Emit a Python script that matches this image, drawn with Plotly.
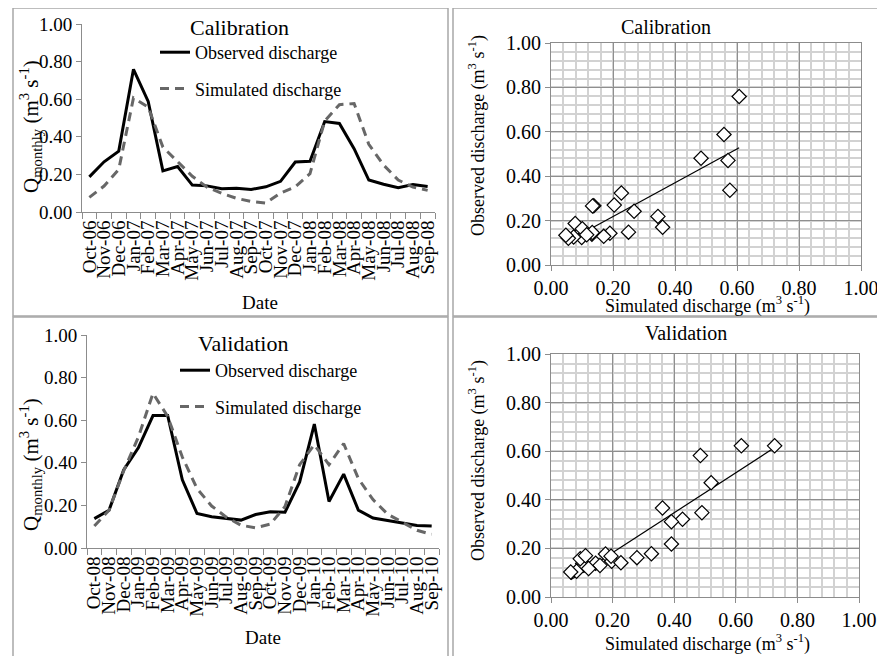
import numpy as np
import plotly.graph_objects as go

# the page body adds an 8px margin, so the figure starts at (8, 8) in the window
OFF = 8
W, H = 885 - OFF, 656 - OFF
FONT = "Liberation Serif, Times New Roman, Times, serif"

# ---------------- data ----------------
cal_months = ["Oct-06", "Nov-06", "Dec-06", "Jan-07", "Feb-07", "Mar-07", "Apr-07", "May-07",
              "Jun-07", "Jul-07", "Aug-07", "Sep-07", "Oct-07", "Nov-07", "Dec-07", "Jan-08",
              "Feb-08", "Mar-08", "Apr-08", "May-08", "Jun-08", "Jul-08", "Aug-08", "Sep-08"]
cal_obs = [0.187, 0.267, 0.324, 0.759, 0.588, 0.219, 0.242, 0.143, 0.139, 0.124, 0.126, 0.120,
           0.134, 0.163, 0.266, 0.270, 0.481, 0.471, 0.337, 0.170, 0.148, 0.129, 0.146, 0.136]
cal_sim = [0.078, 0.138, 0.227, 0.607, 0.558, 0.345, 0.268, 0.190, 0.132, 0.099, 0.073, 0.056,
           0.048, 0.101, 0.134, 0.204, 0.484, 0.571, 0.577, 0.360, 0.250, 0.170, 0.133, 0.115]

val_months = ["Oct-08", "Nov-08", "Dec-08", "Jan-09", "Feb-09", "Mar-09", "Apr-09", "May-09",
              "Jun-09", "Jul-09", "Aug-09", "Sep-09", "Oct-09", "Nov-09", "Dec-09", "Jan-10",
              "Feb-10", "Mar-10", "Apr-10", "May-10", "Jun-10", "Jul-10", "Aug-10", "Sep-10"]
val_obs = [0.138, 0.177, 0.366, 0.470, 0.622, 0.622, 0.320, 0.162, 0.147, 0.139, 0.131, 0.157,
           0.170, 0.168, 0.310, 0.582, 0.218, 0.347, 0.178, 0.141, 0.130, 0.117, 0.106, 0.103]
val_sim = [0.103, 0.177, 0.362, 0.520, 0.726, 0.618, 0.427, 0.279, 0.197, 0.145, 0.107, 0.095,
           0.112, 0.195, 0.391, 0.485, 0.391, 0.490, 0.326, 0.227, 0.159, 0.122, 0.083, 0.064]

value_ticks = [0.0, 0.2, 0.4, 0.6, 0.8, 1.0]


def px(x):
    return (x - OFF) / W


def py(y):
    return 1 - (y - OFF) / H


def trend(sim, obs):
    a, b = np.polyfit(sim, obs, 1)
    xs = np.array([min(sim), max(sim)])
    return xs, a * xs + b


AX = "#8c8c8c"
fig = go.Figure()

# ---- line charts ----
for xa, ya, months, obs, sim, leg in [("x", "y", cal_months, cal_obs, cal_sim, "legend"),
                                      ("x3", "y3", val_months, val_obs, val_sim, "legend2")]:
    fig.add_trace(go.Scatter(x=months, y=obs, mode="lines", name="Observed discharge",
                             line=dict(color="black", width=3), xaxis=xa, yaxis=ya,
                             legend=leg, legendgroup=leg + "o"))
    fig.add_trace(go.Scatter(x=months, y=sim, mode="lines", name="Simulated discharge",
                             line=dict(color="#676767", width=3, dash="9px,6px"), xaxis=xa, yaxis=ya,
                             legend=leg, legendgroup=leg + "s"))

# ---- scatter charts ----
for xa, ya, obs, sim in [("x2", "y2", cal_obs, cal_sim), ("x4", "y4", val_obs, val_sim)]:
    tx, ty = trend(sim, obs)
    fig.add_trace(go.Scatter(x=tx, y=ty, mode="lines", line=dict(color="black", width=1.2),
                             xaxis=xa, yaxis=ya, showlegend=False))
    fig.add_trace(go.Scatter(x=sim, y=obs, mode="markers",
                             marker=dict(symbol="diamond", size=11, color="white",
                                         line=dict(color="black", width=1.2)),
                             xaxis=xa, yaxis=ya, showlegend=False))

cat_axis = dict(type="category", range=[-0.5, 23.5], tickson="boundaries", ticks="outside",
                tickmode="linear", tick0=0, dtick=1,
                ticklen=6, tickcolor=AX, showline=True, linecolor=AX, linewidth=1,
                showgrid=False, tickangle=-90, tickfont=dict(family=FONT, size=19, color="black"))
line_y = dict(range=[0, 1], tickvals=value_ticks, tickformat=".2f", ticks="outside", ticklen=5,
              tickcolor=AX, showline=True, linecolor=AX, linewidth=1, showgrid=False,
              zeroline=False, tickfont=dict(family=FONT, size=19, color="black"))
sc_axis = dict(range=[0, 1], tickvals=value_ticks, tickformat=".2f", ticks="outside", ticklen=5,
               tickcolor=AX, showline=True, linecolor=AX, linewidth=1, mirror=True,
               showgrid=True, gridcolor="#8f8f8f", gridwidth=1, zeroline=False,
               minor=dict(dtick=0.04, showgrid=True, gridcolor="#d2d2d2", gridwidth=1.5),
               tickfont=dict(family=FONT, size=20, color="black"))

layout = dict(
    width=W, height=H, margin=dict(l=0, r=0, t=0, b=0, autoexpand=False),
    paper_bgcolor="white", plot_bgcolor="white",
    font=dict(family=FONT, color="black"),
    xaxis=dict(cat_axis, domain=[px(82), px(435)], anchor="y"),
    yaxis=dict(line_y, domain=[py(212), py(24)], anchor="x"),
    xaxis2=dict(sc_axis, domain=[px(551), px(861)], anchor="y2"),
    yaxis2=dict(sc_axis, domain=[py(265), py(43)], anchor="x2"),
    xaxis3=dict(cat_axis, domain=[px(87), px(439)], anchor="y3"),
    yaxis3=dict(line_y, domain=[py(548), py(335)], anchor="x3"),
    xaxis4=dict(sc_axis, domain=[px(551), px(859)], anchor="y4"),
    yaxis4=dict(sc_axis, domain=[py(597), py(354)], anchor="x4"),
    legend=dict(x=px(155), y=py(34), xanchor="left", yanchor="top", bgcolor="rgba(0,0,0,0)",
                font=dict(family=FONT, size=18), tracegroupgap=10, itemwidth=30),
    legend2=dict(x=px(175), y=py(352), xanchor="left", yanchor="top", bgcolor="rgba(0,0,0,0)",
                 font=dict(family=FONT, size=18), tracegroupgap=10, itemwidth=30),
)
fig.update_layout(**layout)

# panel frames
for x0, y0, x1, y1 in [(13, 8, 448, 316), (453, 8, 892, 316), (13, 317, 448, 664), (453, 317, 892, 664)]:
    fig.add_shape(type="rect", xref="paper", yref="paper", x0=px(x0), x1=px(x1), y0=py(y1), y1=py(y0),
                  line=dict(color="#a8a8a8", width=1.5), fillcolor="rgba(0,0,0,0)", layer="below")

unit = " (m<sup>3</sup> s<sup>-1</sup>)"
ann = [
    ("Calibration", 240, 27, 22, 0),
    ("Validation", 243, 343, 22, 0),
    ("Calibration", 666, 27, 20, 0),
    ("Validation", 686, 333, 20, 0),
    ("Date", 260, 302, 19, 0),
    ("Date", 263, 637, 19, 0),
    ("Q<sub>monthly</sub>" + unit, 30, 127, 21, -90),
    ("Q<sub>monthly</sub>" + unit, 30, 465, 21, -90),
    ("Observed discharge" + unit, 477, 135, 18, -90),
    ("Observed discharge" + unit, 477, 460, 18, -90),
    ("Simulated discharge" + unit, 707, 305, 18, 0),
    ("Simulated discharge" + unit, 707, 643, 18, 0),
]
for text, x, y, size, ang in ann:
    fig.add_annotation(text=text, xref="paper", yref="paper", x=px(x), y=py(y),
                       xanchor="center", yanchor="middle", showarrow=False, textangle=ang,
                       font=dict(family=FONT, size=size, color="black"))

fig.write_html("out.html")
